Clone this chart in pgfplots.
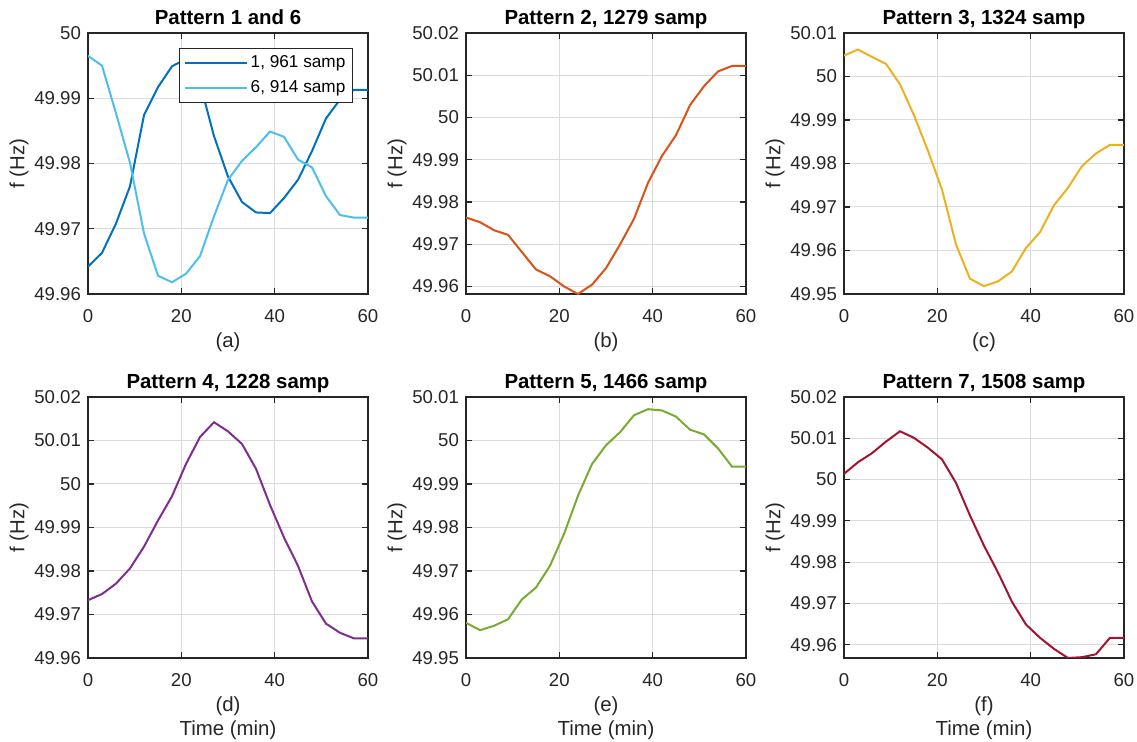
\documentclass[border=0pt]{standalone}
\usepackage{fontspec}
\setmainfont{Liberation Sans}
\usepackage{pgfplots}
\pgfplotsset{compat=1.18}
\definecolor{cA}{rgb}{0,0.447,0.741}
\definecolor{cF}{rgb}{0.301,0.745,0.933}
\definecolor{cB}{rgb}{0.85,0.325,0.098}
\definecolor{cC}{rgb}{0.929,0.694,0.125}
\definecolor{cD}{rgb}{0.494,0.184,0.556}
\definecolor{cE}{rgb}{0.466,0.674,0.188}
\definecolor{cG}{rgb}{0.635,0.078,0.184}
\definecolor{axgray}{rgb}{0.15,0.15,0.15}

\pgfplotsset{mat/.style={
  scale only axis, width=140pt, height=130.5pt, anchor=north west,
  xmin=0, xmax=60, xtick={0,20,40,60},
  grid=major, major grid style={draw=black!14, line width=0.5pt},
  axis line style={draw=axgray, line width=0.8pt},
  tick style={draw=axgray, line width=0.6pt},
  major tick length=3pt,
  tick label style={font=\fontsize{9.3}{11}\selectfont, text=axgray},
  xticklabel style={yshift=-4pt},
  /pgf/number format/assume math mode=true,
  title style={font=\fontsize{10.2}{12}\selectfont\bfseries, text depth=0pt, yshift=-5.5pt},
  label style={font=\fontsize{10.2}{12}\selectfont, text=axgray},
  xlabel style={yshift=1.5pt},
  ylabel style={yshift=-4pt},
  ylabel={f (Hz)},
  scaled y ticks=false,
  every axis plot/.append style={line width=1pt},
}}

\begin{document}
\begin{tikzpicture}
\useasboundingbox (0,0) rectangle (568.5pt,-371pt);

% (a)
\begin{axis}[mat, at={(44pt,-16.5pt)},
  title={Pattern 1 and 6}, xlabel={(a)},
  ymin=49.96, ymax=50,
  ytick={49.96,49.97,49.98,49.99,50},
  yticklabels={49.96,49.97,49.98,49.99,50},
  legend style={at={(rel axis cs:0.946,0.943)}, anchor=north east,
    font=\fontsize{8.6}{10}\selectfont, draw=axgray, line width=0.5pt,
    fill=white, inner xsep=2pt, inner ysep=1.5pt, row sep=1pt,
    nodes={inner xsep=1.5pt}},
  legend image code/.code={\draw[#1] (0pt,0pt) -- (31pt,0pt);},
  legend cell align=left]
\addplot[cA] coordinates {
(0,49.9642) (3,49.9663) (6,49.9708) (9,49.9765) (12,49.9874) (15,49.9917)
(18,49.9949) (21,49.9960) (24,49.9923) (27,49.9842) (30,49.9780) (33,49.9741)
(36,49.9725) (39,49.9724) (42,49.9747) (45,49.9775) (48,49.9819) (51,49.9869)
(54,49.9898) (57,49.9913) (60,49.9913)};
\addlegendentry{1, 961 samp}
\addplot[cF] coordinates {
(0,49.9965) (3,49.9950) (6,49.9877) (9,49.9801) (12,49.9693) (15,49.9628)
(18,49.9618) (21,49.9631) (24,49.9658) (27,49.9719) (30,49.9775) (33,49.9804)
(36,49.9825) (39,49.9849) (42,49.9841) (45,49.9806) (48,49.9794) (51,49.9750)
(54,49.9721) (57,49.9717) (60,49.9717)};
\addlegendentry{6, 914 samp}
\end{axis}

% (b)
\begin{axis}[mat, at={(233pt,-16.5pt)},
  title={Pattern 2, 1279 samp}, xlabel={(b)},
  ymin=49.9582, ymax=50.02,
  ytick={49.96,49.97,49.98,49.99,50,50.01,50.02},
  yticklabels={49.96,49.97,49.98,49.99,50,50.01,50.02}]
\addplot[cB] coordinates {
(0,49.9763) (3,49.9752) (6,49.9733) (9,49.9722) (12,49.9681) (15,49.9640)
(18,49.9624) (21,49.9600) (24,49.9582) (27,49.9604) (30,49.9643) (33,49.9699)
(36,49.9760) (39,49.9845) (42,49.9909) (45,49.9958) (48,50.0029) (51,50.0074)
(54,50.0109) (57,50.0122) (60,50.0122)};
\end{axis}

% (c)
\begin{axis}[mat, at={(422pt,-16.5pt)},
  title={Pattern 3, 1324 samp}, xlabel={(c)},
  ymin=49.95, ymax=50.01,
  ytick={49.95,49.96,49.97,49.98,49.99,50,50.01},
  yticklabels={49.95,49.96,49.97,49.98,49.99,50,50.01}]
\addplot[cC] coordinates {
(0,50.0048) (3,50.0062) (6,50.0045) (9,50.0029) (12,49.9982) (15,49.9911)
(18,49.9829) (21,49.9740) (24,49.9614) (27,49.9535) (30,49.9518) (33,49.9529)
(36,49.9552) (39,49.9606) (42,49.9642) (45,49.9704) (48,49.9744) (51,49.9794)
(54,49.9823) (57,49.9843) (60,49.9843)};
\end{axis}

% (d)
\begin{axis}[mat, at={(44pt,-198.5pt)},
  title={Pattern 4, 1228 samp}, xlabel={(d)\\Time (min)},
  xlabel style={align=center},
  ymin=49.96, ymax=50.02,
  ytick={49.96,49.97,49.98,49.99,50,50.01,50.02},
  yticklabels={49.96,49.97,49.98,49.99,50,50.01,50.02}]
\addplot[cD] coordinates {
(0,49.9733) (3,49.9747) (6,49.9771) (9,49.9806) (12,49.9856) (15,49.9916)
(18,49.9972) (21,50.0046) (24,50.0108) (27,50.0142) (30,50.0121) (33,50.0092)
(36,50.0035) (39,49.9952) (42,49.9877) (45,49.9812) (48,49.9730) (51,49.9679)
(54,49.9658) (57,49.9645) (60,49.9645)};
\end{axis}

% (e)
\begin{axis}[mat, at={(233pt,-198.5pt)},
  title={Pattern 5, 1466 samp}, xlabel={(e)\\Time (min)},
  xlabel style={align=center},
  ymin=49.95, ymax=50.01,
  ytick={49.95,49.96,49.97,49.98,49.99,50,50.01},
  yticklabels={49.95,49.96,49.97,49.98,49.99,50,50.01}]
\addplot[cE] coordinates {
(0,49.9581) (3,49.9564) (6,49.9574) (9,49.9589) (12,49.9635) (15,49.9662)
(18,49.9712) (21,49.9785) (24,49.9873) (27,49.9946) (30,49.9989) (33,50.0019)
(36,50.0058) (39,50.0072) (42,50.0069) (45,50.0055) (48,50.0025) (51,50.0014)
(54,49.9982) (57,49.9940) (60,49.9940)};
\end{axis}

% (f)
\begin{axis}[mat, at={(422pt,-198.5pt)},
  title={Pattern 7, 1508 samp}, xlabel={(f)\\Time (min)},
  xlabel style={align=center},
  ymin=49.9568, ymax=50.02,
  ytick={49.96,49.97,49.98,49.99,50,50.01,50.02},
  yticklabels={49.96,49.97,49.98,49.99,50,50.01,50.02}]
\addplot[cG] coordinates {
(0,50.0014) (3,50.0042) (6,50.0064) (9,50.0092) (12,50.0117) (15,50.0101)
(18,50.0077) (21,50.0049) (24,49.9992) (27,49.9913) (30,49.9840) (33,49.9775)
(36,49.9704) (39,49.9649) (42,49.9617) (45,49.9590) (48,49.9568) (51,49.9570)
(54,49.9577) (57,49.9617) (60,49.9617)};
\end{axis}
\end{tikzpicture}
\end{document}
